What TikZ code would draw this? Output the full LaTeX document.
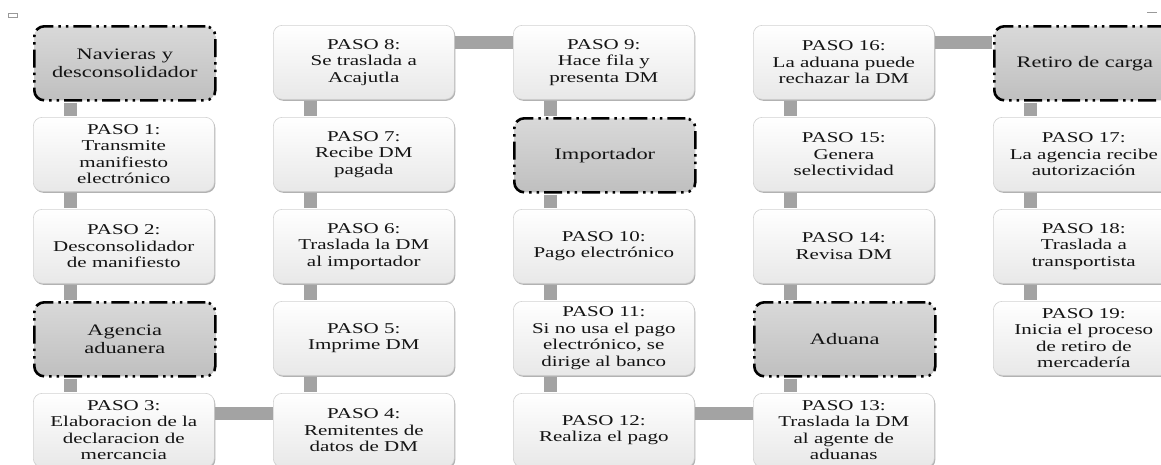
\documentclass[tikz,border=0pt]{standalone}
\usepackage{fontspec}
\setmainfont{Liberation Serif}[FakeStretch=1.4]
\usetikzlibrary{shadows}
\definecolor{barc}{RGB}{163,163,163}
\definecolor{txt}{RGB}{20,20,20}
\begin{document}
\begin{tikzpicture}[x=1pt,y=-1pt,
  wbox/.style={rectangle, rounded corners=9pt, minimum width=181pt, minimum height=74pt,
    inner sep=0pt, anchor=north west, top color=white, bottom color=black!9,
    draw=black!18, line width=0.6pt, align=center, font=\fontsize{15}{16.5}\selectfont,
    text=txt, drop shadow={shadow xshift=1pt, shadow yshift=-1.5pt, opacity=0.3, fill=black}},
  gbox/.style={rectangle, rounded corners=10pt, minimum width=181pt, minimum height=74pt,
    inner sep=0pt, anchor=north west, top color=black!15, bottom color=black!25,
    draw=black, line width=2.6pt, dash pattern=on 18pt off 5pt on 2.5pt off 5pt on 2.5pt off 5pt,
    align=center, font=\fontsize{16}{17.2}\selectfont, text=txt},
  bar/.style={line width=13pt, draw=barc},
  mark0/.style={draw=black!40, line width=0.8pt}
]
\useasboundingbox (0,0) rectangle (1161,464);
\clip (0,0) rectangle (1161,464);
\fill[white] (0,0) rectangle (1161,464);
% stray marks
\draw[mark0] (8,13) rectangle (17,17.5);
\draw[mark0] (1147,12) -- (1157,12);

% column 1
\node[gbox] (n1) at (33,25) {Navieras y\\desconsolidador};
\node[wbox] (p1) at (33,117) {PASO 1:\\Transmite\\manifiesto\\electrónico};
\node[wbox] (p2) at (33,209) {PASO 2:\\Desconsolidador\\de manifiesto};
\node[gbox] (n2) at (33,301) {Agencia\\aduanera};
\node[wbox] (p3) at (33,393) {PASO 3:\\Elaboracion de la\\declaracion de\\mercancia};
% column 2
\node[wbox] (p8) at (273,25) {PASO 8:\\Se traslada a\\Acajutla};
\node[wbox] (p7) at (273,117) {PASO 7:\\Recibe DM\\pagada};
\node[wbox] (p6) at (273,209) {PASO 6:\\Traslada la DM\\al importador};
\node[wbox] (p5) at (273,301) {PASO 5:\\Imprime DM};
\node[wbox] (p4) at (273,393) {PASO 4:\\Remitentes de\\datos de DM};
% column 3
\node[wbox] (p9) at (513,25) {PASO 9:\\Hace fila y\\presenta DM};
\node[gbox] (n3) at (513,117) {Importador};
\node[wbox] (p10) at (513,209) {PASO 10:\\Pago electrónico};
\node[wbox] (p11) at (513,301) {PASO 11:\\Si no usa el pago\\electrónico, se\\dirige al banco};
\node[wbox] (p12) at (513,393) {PASO 12:\\Realiza el pago};
% column 4
\node[wbox] (p16) at (753,25) {PASO 16:\\La aduana puede\\rechazar la DM};
\node[wbox] (p15) at (753,117) {PASO 15:\\Genera\\selectividad};
\node[wbox] (p14) at (753,209) {PASO 14:\\Revisa DM};
\node[gbox] (n4) at (753,301) {Aduana};
\node[wbox] (p13) at (753,393) {PASO 13:\\Traslada la DM\\al agente de\\aduanas};
% column 5
\node[gbox] (n5) at (993,25) {Retiro de carga};
\node[wbox] (p17) at (993,117) {PASO 17:\\La agencia recibe\\autorización};
\node[wbox] (p18) at (993,209) {PASO 18:\\Traslada a\\transportista};
\node[wbox] (p19) at (993,301) {PASO 19:\\Inicia el proceso\\de retiro de\\mercadería};

% vertical bars
\foreach \a/\b in {n1/p1,p1/p2,p2/n2,n2/p3,
                   p8/p7,p7/p6,p6/p5,p5/p4,
                   p9/n3,n3/p10,p10/p11,p11/p12,
                   p16/p15,p15/p14,p14/n4,n4/p13,
                   n5/p17,p17/p18,p18/p19}
  \draw[bar] ([xshift=37pt,yshift=-1.3pt]\a.south west) -- ([xshift=37pt,yshift=1.3pt]\b.north west);
% horizontal bars
\draw[bar] ([xshift=0.3pt,yshift=-20pt]p3.north east) -- ([xshift=-0.3pt,yshift=-20pt]p4.north west);
\draw[bar] ([xshift=0.3pt,yshift=-17.5pt]p8.north east) -- ([xshift=-0.3pt,yshift=-17.5pt]p9.north west);
\draw[bar] ([xshift=0.3pt,yshift=-20pt]p12.north east) -- ([xshift=-0.3pt,yshift=-20pt]p13.north west);
\draw[bar] ([xshift=0.3pt,yshift=-17.5pt]p16.north east) -- ([xshift=-1.3pt,yshift=-17.5pt]n5.north west);
\end{tikzpicture}
\end{document}
